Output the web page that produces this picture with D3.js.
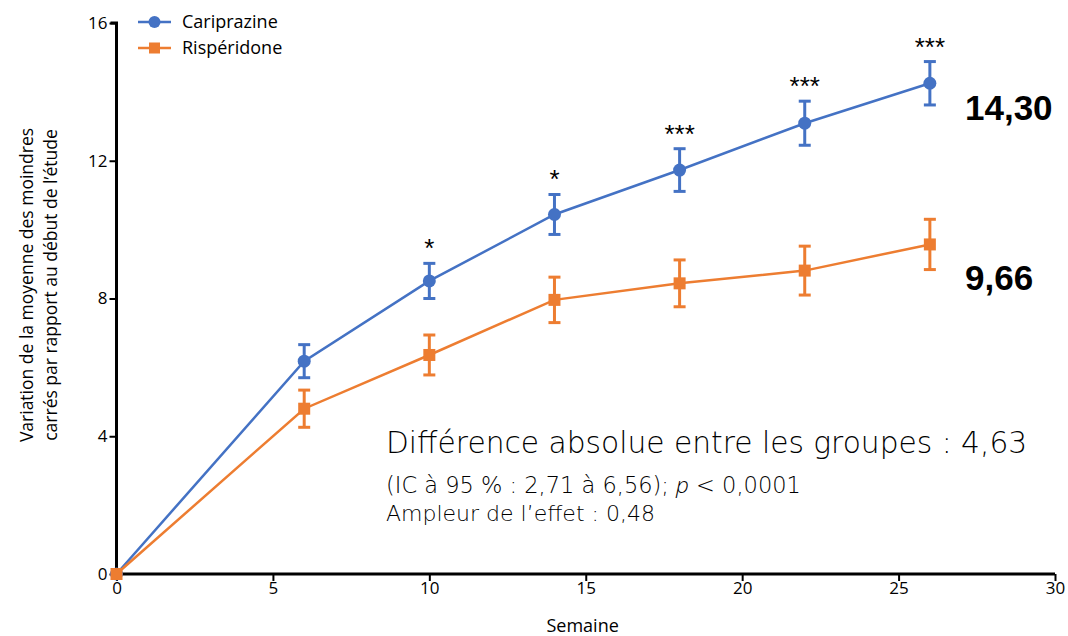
<!DOCTYPE html>
<html>
<head>
<meta charset="utf-8">
<script src="https://cdn.jsdelivr.net/npm/d3@7"></script>
<style>
  body { margin: 0; background: #fff; }
  svg { display: block; font-family: "Open Sans", "Noto Sans", sans-serif; }
</style>
</head>
<body>
<script>
// Chart size
var width = 1068,
    height = 636;

// Data
var weeks = [0, 6, 10, 14, 18, 22, 26];
var caripValues = [0, 6.18, 8.51, 10.44, 11.73, 13.09, 14.25];
var caripErrors = [0, 0.48, 0.51, 0.58, 0.62, 0.64, 0.63];
var rispValues = [0, 4.80, 6.36, 7.96, 8.44, 8.81, 9.57];
var rispErrors = [0, 0.54, 0.58, 0.66, 0.68, 0.71, 0.73];
var stars = ["", "", "*", "*", "***", "***", "***"];
var xTicks = [0, 5, 10, 15, 20, 25, 30];
var yTicks = [0, 4, 8, 12, 16];
var seriesNames = ["Cariprazine", "Rispéridone"];
var endLabels = ["14,30", "9,66"];

var blue = "#4472C4",
    orange = "#ED7D31";

var x = d3.scaleLinear().domain([0, 30]).range([116.5, 1055]);
var y = d3.scaleLinear().domain([0, 16]).range([574, 23]);

var svg = d3.select("body").append("svg")
    .attr("width", width)
    .attr("height", height);

// Axes
var xAxis = svg.append("g")
    .attr("transform", "translate(0," + y(0) + ")")
    .call(d3.axisBottom(x).tickValues(xTicks).tickSize(7).tickPadding(1).tickSizeOuter(0));
var yAxis = svg.append("g")
    .attr("transform", "translate(" + x(0) + ",0)")
    .call(d3.axisLeft(y).tickValues(yTicks).tickSize(7).tickPadding(2).tickSizeOuter(0));

[xAxis, yAxis].forEach(function(a) {
    a.select(".domain").attr("stroke", "#000").attr("stroke-width", 3);
    a.selectAll(".tick line").attr("stroke", "#000").attr("stroke-width", 2);
    a.selectAll(".tick text")
        .attr("fill", "#000")
        .style("font-size", "17px")
        .style("font-family", "'Open Sans', sans-serif");
});
// domains meet at the origin
xAxis.select(".domain").attr("d", "M" + (x(0) - 1.5) + ",0H" + x(30));
yAxis.select(".domain").attr("d", "M0," + (y(0) + 1.5) + "V" + y(16) + "H-6");

// Axis titles
svg.append("text")
    .attr("x", x(14.9))
    .attr("y", 632)
    .attr("text-anchor", "middle")
    .style("font-size", "18px")
    .text("Semaine");

var yTitle = svg.append("text")
    .attr("transform", "translate(33,285) rotate(-90)")
    .attr("text-anchor", "middle")
    .style("font-size", "17.5px");
yTitle.append("tspan").attr("x", 0).attr("dy", 0).text("Variation de la moyenne des moindres");
yTitle.append("tspan").attr("x", 0).attr("dy", 24).text("carrés par rapport au début de l’étude");

// Series drawing
function drawSeries(values, errors, color, shape) {
    var pts = weeks.map(function(w, i) { return {w: w, v: values[i], e: errors[i], s: stars[i]}; });
    var g = svg.append("g");

    g.append("path")
        .datum(pts)
        .attr("fill", "none")
        .attr("stroke", color)
        .attr("stroke-width", 2.5)
        .attr("d", d3.line().x(function(d) { return x(d.w); }).y(function(d) { return y(d.v); }));

    var eb = g.selectAll(".err")
        .data(pts.filter(function(d) { return d.e > 0; }))
        .enter().append("g");
    eb.append("line")
        .attr("x1", function(d) { return x(d.w); })
        .attr("x2", function(d) { return x(d.w); })
        .attr("y1", function(d) { return y(d.v + d.e); })
        .attr("y2", function(d) { return y(d.v - d.e); })
        .attr("stroke", color).attr("stroke-width", 3);
    [1, -1].forEach(function(sgn) {
        eb.append("line")
            .attr("x1", function(d) { return x(d.w) - 6; })
            .attr("x2", function(d) { return x(d.w) + 6; })
            .attr("y1", function(d) { return y(d.v + sgn * d.e); })
            .attr("y2", function(d) { return y(d.v + sgn * d.e); })
            .attr("stroke", color).attr("stroke-width", 3);
    });

    if (shape == "circle") {
        g.selectAll("circle").data(pts).enter().append("circle")
            .attr("cx", function(d) { return x(d.w); })
            .attr("cy", function(d) { return y(d.v); })
            .attr("r", 6.5)
            .attr("fill", color);
    } else {
        g.selectAll("rect").data(pts).enter().append("rect")
            .attr("x", function(d) { return x(d.w) - 6; })
            .attr("y", function(d) { return y(d.v) - 6; })
            .attr("width", 12).attr("height", 12)
            .attr("fill", color);
    }
    return pts;
}

var caripPts = drawSeries(caripValues, caripErrors, blue, "circle");
drawSeries(rispValues, rispErrors, orange, "square");

// Significance stars
svg.append("g").selectAll("text")
    .data(caripPts.filter(function(d) { return d.s; }))
    .enter().append("text")
    .attr("x", function(d) { return x(d.w); })
    .attr("y", function(d) { return y(d.v + d.e) - 6; })
    .attr("text-anchor", "middle")
    .style("font-size", "26px")
    .style("font-family", "'Liberation Sans', Arial, sans-serif")
    .text(function(d) { return d.s; });

// End value labels
var labelShift = [37, 46];
svg.append("g").selectAll("text")
    .data([caripValues[6], rispValues[6]])
    .enter().append("text")
    .attr("x", 965)
    .attr("y", function(d, i) { return y(d) + labelShift[i]; })
    .style("font-size", "35px")
    .style("font-weight", "bold")
    .style("font-family", "'Liberation Sans', Arial, sans-serif")
    .text(function(d, i) { return endLabels[i]; });

// Legend
var legend = svg.append("g");
seriesNames.forEach(function(name, i) {
    var ly = 22 + i * 26;
    var col = i == 0 ? blue : orange;
    legend.append("line")
        .attr("x1", 138).attr("x2", 171)
        .attr("y1", ly).attr("y2", ly)
        .attr("stroke", col).attr("stroke-width", 2.5);
    if (i == 0) {
        legend.append("circle").attr("cx", 154.5).attr("cy", ly).attr("r", 6).attr("fill", col);
    } else {
        legend.append("rect").attr("x", 149).attr("y", ly - 5.5).attr("width", 11).attr("height", 11).attr("fill", col);
    }
    legend.append("text")
        .attr("x", 182).attr("y", ly + 6)
        .style("font-size", "18px")
        .text(name);
});

// Annotation block
var ann = svg.append("g")
    .style("font-family", "'DejaVu Sans', sans-serif")
    .style("font-weight", "200");
ann.append("text")
    .attr("x", 386).attr("y", 453)
    .style("font-size", "29.7px")
    .text("Différence absolue entre les groupes : 4,63");
var l2 = ann.append("text")
    .attr("x", 386).attr("y", 493)
    .style("font-size", "22.5px");
l2.append("tspan").text("(IC à 95 % : 2,71 à 6,56); ");
l2.append("tspan")
    .style("font-family", "'Open Sans', sans-serif")
    .style("font-weight", "300")
    .style("font-style", "italic")
    .text("p");
l2.append("tspan").text(" < 0,0001");
ann.append("text")
    .attr("x", 386).attr("y", 521)
    .style("font-size", "22px")
    .text("Ampleur de l’effet : 0,48");
</script>
</body>
</html>
